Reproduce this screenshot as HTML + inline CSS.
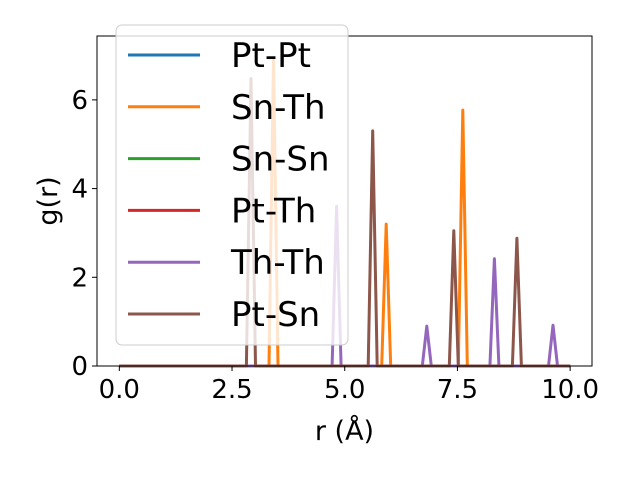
<!DOCTYPE html>
<html><head><meta charset="utf-8"><style>
body{margin:0;background:#fff;}
svg{font-family:"DejaVu Sans","Liberation Sans",sans-serif;}
</style></head><body>
<svg id="chart" width="640" height="480" viewBox="0 0 640 480" xmlns="http://www.w3.org/2000/svg">
<rect width="640" height="480" fill="#fff"/>
<g id="plot"></g>
<g id="axes"></g>
<g id="legend"></g>
</svg>
<script>
const seriesNames=["Pt-Pt","Sn-Th","Sn-Sn","Pt-Th","Th-Th","Pt-Sn"];
const colors=["#1f77b4","#ff7f0e","#2ca02c","#d62728","#9467bd","#8c564b"];
const peakPos=[[],[3.42,5.92,7.62],[],[],[4.82,6.82,8.32,9.62],[2.92,5.62,7.42,8.82]];
const peakVal=[[],[6.95,3.2,5.77],[],[],[3.6,0.9,2.42,0.92],[6.48,5.3,3.05,2.88]];
const xTicks=[0,2.5,5,7.5,10];
const xTickLabels=["0.0","2.5","5.0","7.5","10.0"];
const yTicks=[0,2,4,6];
const yTickLabels=["0","2","4","6"];
const L=97,R=592,T=36,B=366,xmin=-0.495,xmax=10.485,ymin=0,ymax=7.44;
const X=v=>L+(v-xmin)/(xmax-xmin)*(R-L);
const Y=v=>B-(v-ymin)/(ymax-ymin)*(B-T);
const NS="http://www.w3.org/2000/svg";
function mk(t,a,p){const e=document.createElementNS(NS,t);for(const k in a)e.setAttribute(k,a[k]);p.appendChild(e);return e;}
const plot=document.getElementById('plot');
seriesNames.forEach((n,i)=>{
  const pts=[[0,0]];
  const ps=peakPos[i].map((p,j)=>[p,peakVal[i][j]]).sort((a,b)=>a[0]-b[0]);
  ps.forEach(([p,v])=>{pts.push([p-0.1,0]);pts.push([p,v]);pts.push([p+0.1,0]);});
  pts.push([10.0,0]);
  const pl=mk('polyline',{points:pts.map(q=>X(q[0]).toFixed(1)+','+Y(q[1]).toFixed(1)).join(' '),fill:'none',stroke:colors[i],'stroke-width':3,'stroke-linejoin':'round'},plot);
  
  
});
const ax=document.getElementById('axes');
const fr=mk('rect',{x:L,y:T,width:R-L,height:B-T,fill:'none',stroke:'#000','stroke-width':1},ax);

xTicks.forEach((v,i)=>{
  mk('line',{x1:X(v),x2:X(v),y1:B,y2:B+5,stroke:'#000'},ax);
  const t=mk('text',{x:X(v),y:B+32,'text-anchor':'middle','font-size':26},ax);t.textContent=xTickLabels[i];
  
});
yTicks.forEach((v,i)=>{
  mk('line',{x1:L-5,x2:L,y1:Y(v),y2:Y(v),stroke:'#000'},ax);
  const t=mk('text',{x:L-9,y:Y(v)+9,'text-anchor':'end','font-size':26},ax);t.textContent=yTickLabels[i];
  
});
const xl=mk('text',{x:(L+R)/2,y:440,'text-anchor':'middle','font-size':27},ax);xl.textContent='r (Å)';

const yl=mk('text',{x:57,y:(T+B)/2,'text-anchor':'middle','font-size':27,transform:'rotate(-90 57 '+((T+B)/2)+')'},ax);yl.textContent='g(r)';

const lg=document.getElementById('legend');

mk('rect',{x:116,y:25,width:232,height:320,rx:6,fill:'#fff','fill-opacity':0.8,stroke:'#ccc'},lg);
seriesNames.forEach((n,i)=>{
  const y=55+i*51.8;
  const g=mk('g',{},lg);
  
  
  mk('line',{x1:128,x2:200,y1:y,y2:y,stroke:colors[i],'stroke-width':3},g);
  const t=mk('text',{x:231,y:y+12,'font-size':34},g);t.textContent=n;
});
</script>
</body></html>
